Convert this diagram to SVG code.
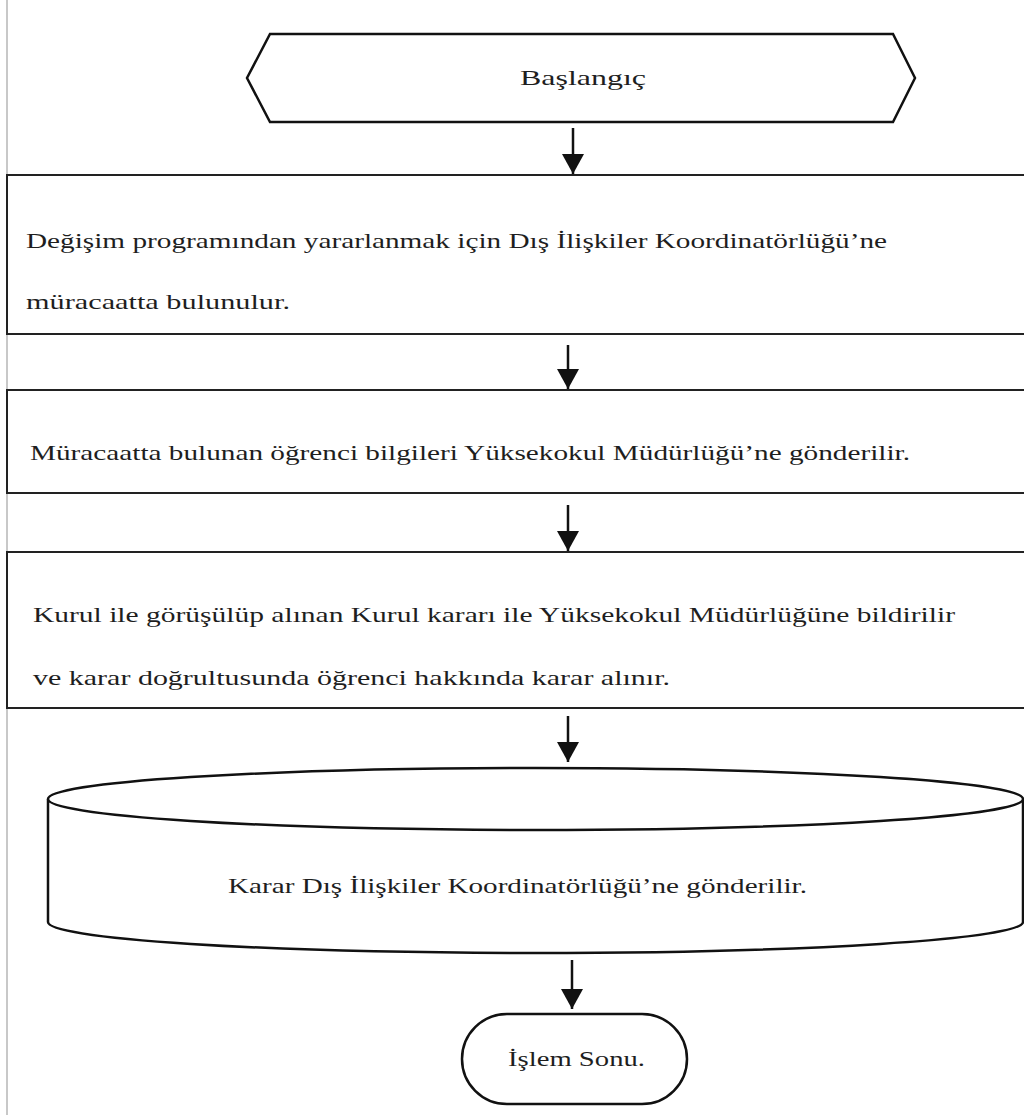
<svg xmlns="http://www.w3.org/2000/svg" width="1024" height="1115" viewBox="0 0 1024 1115">
<style>
.t{font-family:"Liberation Serif","DejaVu Serif",serif;font-size:22px;fill:#1e1e1e}
.box{fill:#fff;stroke:#222;stroke-width:2}
.sh{fill:#fff;stroke:#111;stroke-width:2.5}
.ln{stroke:#111;stroke-width:2.5;fill:none}
</style>
<defs>
<marker id="ah" viewBox="0 0 20 22" refX="20" refY="11" markerWidth="20" markerHeight="22" markerUnits="userSpaceOnUse" orient="auto">
<path d="M0,0 L20,11 L0,22 Z" fill="#111"/>
</marker>
</defs>
<rect x="0" y="0" width="1024" height="1115" fill="#fff"/>
<line x1="7" y1="0" x2="7" y2="1115" stroke="#c8c8c8" stroke-width="2"/>
<g id="start">
<polygon class="sh" points="270,34 893,34 915,78 893,122 270,122 247,78"/>
<text class="t" x="520" y="85" textLength="126" lengthAdjust="spacingAndGlyphs">Başlangıç</text>
</g>
<g id="step1">
<rect class="box" x="7" y="175" width="1030" height="159"/>
<text class="t" x="26" y="248" textLength="861" lengthAdjust="spacingAndGlyphs">Değişim programından yararlanmak için Dış İlişkiler Koordinatörlüğü’ne</text>
<text class="t" x="26" y="309" textLength="264" lengthAdjust="spacingAndGlyphs">müracaatta bulunulur.</text>
</g>
<g id="step2">
<rect class="box" x="7" y="390" width="1030" height="103"/>
<text class="t" x="30" y="460" textLength="880" lengthAdjust="spacingAndGlyphs">Müracaatta bulunan öğrenci bilgileri Yüksekokul Müdürlüğü’ne gönderilir.</text>
</g>
<g id="step3">
<rect class="box" x="7" y="552" width="1030" height="156"/>
<text class="t" x="33" y="622" textLength="922" lengthAdjust="spacingAndGlyphs">Kurul ile görüşülüp alınan Kurul kararı ile Yüksekokul Müdürlüğüne bildirilir</text>
<text class="t" x="33" y="685" textLength="637" lengthAdjust="spacingAndGlyphs">ve karar doğrultusunda öğrenci hakkında karar alınır.</text>
</g>
<g id="store">
<path class="sh" d="M48,799 L48,922 A487.5,31 0 0 0 1023,922 L1023,799"/>
<ellipse class="sh" cx="535.5" cy="799" rx="487.5" ry="31"/>
<text class="t" x="228" y="893" textLength="579" lengthAdjust="spacingAndGlyphs">Karar Dış İlişkiler Koordinatörlüğü’ne gönderilir.</text>
</g>
<g id="end">
<rect class="sh" x="462" y="1014" width="225" height="90" rx="45" ry="45"/>
<text class="t" x="508" y="1066" textLength="137" lengthAdjust="spacingAndGlyphs">İşlem Sonu.</text>
</g>
<g id="connectors">
<line class="ln" x1="573" y1="128" x2="573" y2="174" marker-end="url(#ah)"/>
<line class="ln" x1="568" y1="345" x2="568" y2="389" marker-end="url(#ah)"/>
<line class="ln" x1="568" y1="505" x2="568" y2="551" marker-end="url(#ah)"/>
<line class="ln" x1="568" y1="716" x2="568" y2="762" marker-end="url(#ah)"/>
<line class="ln" x1="572" y1="960" x2="572" y2="1009" marker-end="url(#ah)"/>
</g>
</svg>
